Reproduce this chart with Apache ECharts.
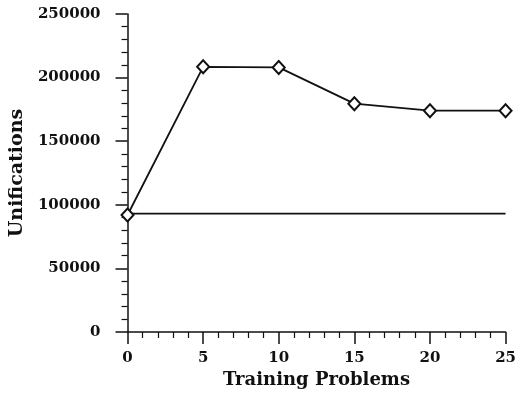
<!DOCTYPE html>
<html>
<head>
<meta charset="utf-8">
<script src="https://cdn.jsdelivr.net/npm/echarts@6/dist/echarts.min.js"></script>
<style>
  html, body { margin: 0; padding: 0; background: #fff; }
  #chart { width: 519px; height: 394px; }
</style>
</head>
<body>
<div id="chart"></div>
<script>
// Number of training problems seen
const trainingProblems = [0, 5, 10, 15, 20, 25];
// Unifications after learning
const learnedUnifications = [92000, 208500, 208000, 179500, 174000, 174000];
// Baseline unifications (no learning), flat across the range
const baselineX = [0, 25];
const baselineUnifications = [93000, 93000];

const font = 'DejaVu Serif';
const chart = echarts.init(document.getElementById('chart'));

chart.setOption({
  animation: false,
  backgroundColor: '#ffffff',
  grid: { left: 127, right: 9, top: 14, bottom: 62 },
  xAxis: {
    type: 'value',
    min: 0, max: 25, interval: 5,
    name: 'Training Problems',
    nameLocation: 'middle',
    nameGap: 37,
    nameTextStyle: { fontFamily: font, fontWeight: 'bold', fontSize: 18, color: '#111' },
    axisLine: { lineStyle: { color: '#111', width: 1.5 } },
    axisTick: { length: 12, lineStyle: { color: '#111', width: 1.5 } },
    minorTick: { show: true, splitNumber: 5, length: 6, lineStyle: { color: '#111', width: 1.2 } },
    axisLabel: { margin: 19, fontFamily: font, fontWeight: 'bold', fontSize: 15, color: '#111',
                 formatter: v => String(v) },
    splitLine: { show: false }
  },
  yAxis: {
    type: 'value',
    min: 0, max: 250000, interval: 50000,
    name: 'Unifications',
    nameLocation: 'middle',
    nameGap: 95,
    nameTextStyle: { fontFamily: font, fontWeight: 'bold', fontSize: 19, color: '#111' },
    axisLine: { show: true, lineStyle: { color: '#111', width: 1.5 } },
    axisTick: { show: true, length: 12, lineStyle: { color: '#111', width: 1.5 } },
    minorTick: { show: true, splitNumber: 5, length: 6, lineStyle: { color: '#111', width: 1.2 } },
    axisLabel: { margin: 27, fontFamily: font, fontWeight: 'bold', fontSize: 15, color: '#111',
                 formatter: v => String(v) },
    splitLine: { show: false }
  },
  series: [
    {
      type: 'line',
      data: baselineX.map((x, i) => [x, baselineUnifications[i]]),
      showSymbol: false,
      lineStyle: { color: '#111', width: 1.8 },
      z: 1
    },
    {
      type: 'line',
      data: trainingProblems.map((x, i) => [x, learnedUnifications[i]]),
      symbol: 'diamond',
      symbolSize: [12, 13],
      itemStyle: { color: '#fff', borderColor: '#111', borderWidth: 2 },
      lineStyle: { color: '#111', width: 1.8 },
      z: 2
    }
  ]
});
</script>
</body>
</html>
